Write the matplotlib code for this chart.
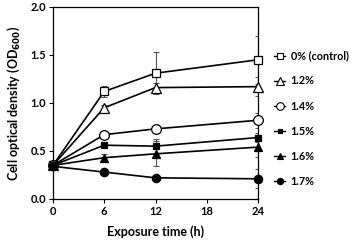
import numpy as np
import matplotlib
matplotlib.use("Agg")
import matplotlib.pyplot as plt

plt.rcParams['font.family'] = ['Lato', 'DejaVu Sans']
plt.rcParams['font.weight'] = 'bold'

# exposure times (h)
hours = [0, 6, 12, 24]

labels = ['0% (control)', '1.2%', '1.4%', '1.5%', '1.6%', '1.7%']

od_control = [0.35, 1.12, 1.31, 1.45]
od_12 = [0.35, 0.95, 1.16, 1.17]
od_14 = [0.35, 0.67, 0.73, 0.82]
od_15 = [0.35, 0.56, 0.55, 0.64]
od_16 = [0.35, 0.43, 0.47, 0.54]
od_17 = [0.34, 0.28, 0.22, 0.21]

err_control = [0.02, 0.06, 0.22, 0.25]
err_12 = [0.02, 0.03, 0.05, 0.10]
err_14 = [0.02, 0.02, 0.02, 0.08]
err_15 = [0.02, 0.02, 0.07, 0.05]
err_16 = [0.02, 0.04, 0.13, 0.10]
err_17 = [0.02, 0.01, 0.01, 0.10]

series = [
    (od_control, err_control, 's', 'white', 6),
    (od_12, err_12, '^', 'white', 7),
    (od_14, err_14, 'o', 'white', 7),
    (od_15, err_15, 's', 'black', 5),
    (od_16, err_16, '^', 'black', 6),
    (od_17, err_17, 'o', 'black', 6),
]

fig = plt.figure(figsize=(3.6, 2.4), dpi=100)
ax = fig.add_axes([0.147, 0.171, 0.570, 0.800])

for (vals, err, mk, fc, ms), lab in zip(series, labels):
    ax.errorbar(hours, vals, yerr=err, fmt='none', ecolor='#555555',
                elinewidth=0.8, capsize=2, capthick=0.8, zorder=2)
    ax.plot(hours, vals, color='black', lw=1.2, marker=mk,
            markerfacecolor=fc, markeredgecolor='black',
            markeredgewidth=0.9, markersize=ms, label=lab, zorder=3,
            clip_on=False)

ax.set_xlim(0, 24)
ax.set_ylim(0, 2.0)
ax.set_xticks([0, 6, 12, 18, 24])
ax.set_yticks([0, 0.5, 1.0, 1.5, 2.0])
ax.set_yticklabels(['0.0', '0.5', '1.0', '1.5', '2.0'])
ax.tick_params(labelsize=8, length=3, width=0.8, direction='out', pad=2)
for s in ax.spines.values():
    s.set_linewidth(0.9)

ax.set_xlabel('Exposure time (h)', fontsize=9, fontweight='bold', labelpad=6)
ax.set_ylabel('Cell optical density (OD$_{600}$)', fontsize=9,
              fontweight='bold', labelpad=6)

leg_handles = []
for (vals, err, mk, fc, ms), lab in zip(series, labels):
    lh, = plt.plot([], [], color='black', lw=1.0, marker=mk,
                   markerfacecolor=fc, markeredgecolor='black',
                   markeredgewidth=0.8, markersize=ms - 1.5)
    leg_handles.append(lh)
fig.legend(leg_handles, labels, loc='upper left', bbox_to_anchor=(0.762, 0.79),
           frameon=False, fontsize=7.8, handlelength=1.0, handletextpad=0.5,
           labelspacing=1.3, borderpad=0, borderaxespad=0)

fig.savefig('out.png', dpi=100)
